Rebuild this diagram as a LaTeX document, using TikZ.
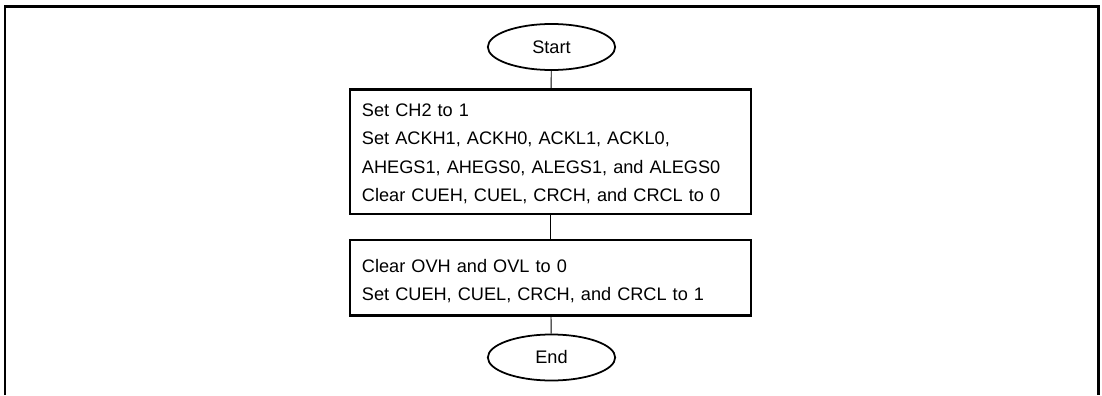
\documentclass[tikz,border=0pt]{standalone}
\usepackage{fontspec}
\setmainfont{Liberation Sans}
\usetikzlibrary{shapes.geometric}

\begin{document}
\begin{tikzpicture}[x=0.03cm, y=-0.03cm,
    terminal/.style={ellipse, draw=borderColour, line width=1.5pt, minimum width=3.82cm, minimum height=1.38cm, inner sep=0pt},
    process/.style={rectangle, draw=borderColour, line width=1.8pt, text width=11.31cm, inner xsep=0.36cm, inner ysep=0pt, align=left},
    link/.style={draw=borderColour, line width=0.8pt}]
    % Define font size
    \def\flowFont{\fontsize{15.5}{24.2}\selectfont}

    \definecolor{borderColour}{HTML}{000000}

    % Fix picture size
    \useasboundingbox (0,0) rectangle (1102,395);

    % Draw outer frame
    \draw[borderColour, line width=2.2pt] (5,395) -- (5,6.5) -- (1098.5,6.5) -- (1098.5,395);

    % Draw terminals and process boxes
    \node[terminal, font=\flowFont] (start) at (551.5,47) {Start};
    \node[process, font=\flowFont, minimum height=3.735cm] (setBits) at (550.5,151.75)
        {\rule{0pt}{14.5pt}Set CH2 to 1\\
         Set ACKH1, ACKH0, ACKL1, ACKL0,\\
         AHEGS1, AHEGS0, ALEGS1, and ALEGS0\\
         Clear CUEH, CUEL, CRCH, and CRCL to 0};
    \node[process, font=\flowFont, minimum height=2.265cm] (clearBits) at (550.5,277.7)
        {\rule{0pt}{17.5pt}Clear OVH and OVL to 0\\
         Set CUEH, CUEL, CRCH, and CRCL to 1};
    \node[terminal, font=\flowFont] (end) at (551.5,357.5) {End};

    % Draw connectors
    \draw[link] (start) -- (setBits);
    \draw[link] (setBits) -- (clearBits);
    \draw[link] (clearBits) -- (end);

\end{tikzpicture}
\end{document}
